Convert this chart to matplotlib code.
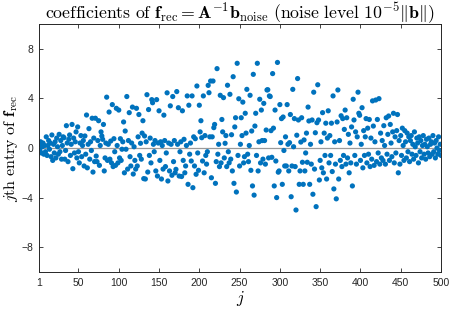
import matplotlib
matplotlib.use("Agg")
import matplotlib.pyplot as plt
import numpy as np

plt.rcParams['mathtext.fontset'] = 'cm'
plt.rcParams['font.family'] = ['Liberation Sans', 'DejaVu Sans']

coef = [
    0.3, -0.2, 0.5, -0.4, 0.1, 0.4, -0.5, 0.2, -0.3, 0.9,
    -0.6, 0.2, 0.6, -0.1, 0.4, -0.7, 1.05, -1.0, 0.3, -0.4,
    0.5, -0.8, 0.8, 0.1, -0.5, 1.1, -0.3, 0.6, -0.9, 0.2,
    0.9, 0.83, -0.9, -0.2, 1.8, 0.4, -1.1, 0.7, 1.05, -0.6,
    0.3, 1.9, -1.67, 0.8, -0.4, 0.5, 1.3, -0.8, 1.7, -0.3,
    -1.2, 0.4, 1.0, -0.7, 0.2, 0.6, -1.45, 0.97, -0.5, 2.66,
    -1.6, 0.3, 1.56, -0.9, 0.5, -0.2, 2.4, -1.94, 0.8, -1.1,
    2.4, -0.65, -1.1, 0.6, 2.2, -1.4, 0.2, 1.3, 0.97, 0.7,
    1.9, -1.85, -0.8, 0.4, 4.1, -1.0, 0.3, 2.9, -0.9, 0.56,
    -1.2, 3.5, -1.5, 0.75, -0.3, -1.4, 3.2, 0.2, -1.2, 3.06,
    -0.8, 0.75, -1.0, -0.1, 0.5, 2.1, -2.0, 1.37, -0.1, 4.15,
    -1.7, 0.6, 2.85, -0.7, -1.45, 0.4, 3.3, -2.1, 0.1, -1.0,
    -1.7, 3.2, -1.45, 0.9, 2.7, -0.6, 0.38, -0.9, 1.2, 2.2,
    -2.47, 0.97, -2.5, 0.5, 4.3, -1.94, 3.1, -0.6, 0.8, -1.2,
    3.9, 3.65, 0.3, -0.3, 0.6, -1.85, 3.9, -2.26, 0.4, 3.0,
    -1.0, 0.5, -2.5, 0.2, -1.7, 2.65, 0.6, -1.5, -0.4, 4.45,
    -2.66, 0.4, -1.85, 3.4, 0.3, -2.2, 4.15, -1.1, 0.6, -2.0,
    -1.72, 4.55, 0.3, 3.25, -2.26, -0.3, 0.5, -2.3, 3.0, -1.0,
    0.7, -2.0, -1.45, 0.2, 4.2, -2.93, 3.45, -0.5, 0.4, -1.05,
    4.2, -3.2, 0.9, -1.45, 0.75, -2.12, 5.0, -0.4, -1.8, 3.45,
    1.3, 2.2, 0.83, -1.05, 4.2, -2.0, 1.0, -0.6, -1.3, -0.3,
    5.05, 4.46, 0.9, 5.4, -2.4, 0.9, 5.4, 1.64, 1.9, -2.85,
    -1.1, 6.4, -0.5, 0.3, -1.5, 4.25, -1.2, 2.3, 1.3, 4.06,
    -0.8, 0.38, 1.0, -1.5, 5.06, -0.3, -1.2, 4.33, -0.9, 1.07,
    -1.85, 5.75, -2.85, 1.7, 2.44, -3.55, 6.83, -0.6, 3.97, -1.45,
    0.3, 2.44, 1.0, 3.7, -1.2, -0.7, 2.8, 1.2, 4.73, -0.5,
    -1.1, 0.2, 4.25, -1.8, 1.37, -3.06, 5.94, -3.8, 1.77, 2.8,
    -0.6, 6.83, -1.85, 0.5, 3.93, -1.2, 3.06, 0.6, -0.9, 3.6,
    0.6, -1.3, 1.45, 4.68, 4.7, -0.8, 4.2, 4.15, 1.4, -0.75,
    6.0, 1.6, -3.06, 3.06, -1.05, -4.0, 6.9, -1.95, -1.85, 3.5,
    0.43, 2.37, -2.93, 2.5, -0.2, -1.45, 0.9, -1.45, 3.5, 0.3,
    -1.85, 0.43, 2.7, -3.93, -1.45, 4.73, 0.1, 2.37, -1.5, -5.0,
    1.03, 5.6, 2.26, -2.93, -1.85, 0.48, 2.44, -1.15, -2.93, 0.65,
    -1.85, -0.4, 1.2, -1.15, 3.3, 2.18, -2.93, 0.3, -1.3, 2.26,
    -3.73, 4.5, -1.7, 1.23, -4.73, 2.04, 5.1, 2.26, -2.58, -1.0,
    0.5, -1.6, 2.85, -2.0, 1.2, -0.6, 2.0, -2.5, 0.8, 3.0,
    -1.2, 1.0, -0.6, 2.0, -1.9, 4.2, -3.3, 0.5, -1.3, -4.1,
    2.1, 4.68, -2.5, 0.6, -1.0, 2.6, -1.5, 2.37, -0.6, 1.5,
    3.06, -1.3, 2.44, -0.8, 1.1, -2.0, 0.4, -1.2, 1.7, -3.06,
    3.93, 2.26, -0.6, 1.3, -1.3, 0.9, 4.5, 2.8, 2.64, -1.0,
    0.3, 3.25, -1.6, 1.4, -0.6, 0.9, 2.37, -1.2, 1.6, -0.5,
    2.3, -1.5, 0.8, -0.9, 3.8, 1.77, -1.4, 0.5, 3.87, -1.1,
    2.3, -0.4, 3.98, -1.3, 1.2, -0.8, 0.6, -1.0, 1.8, 0.2,
    -1.3, 2.44, -0.5, 1.1, 2.58, -1.0, 1.9, 0.4, -0.7, 1.3,
    2.8, -1.2, 0.9, -0.4, 1.4, 2.7, -2.0, 0.6, -1.3, 1.0,
    -0.6, 1.6, 0.2, -1.0, 1.4, 0.5, -0.8, 1.2, -0.3, 0.9,
    -1.1, 0.6, 1.0, -0.5, 0.3, -0.9, 1.3, 0.1, -0.6, 0.8,
    0.4, -1.2, 0.9, -0.3, 0.6, -0.8, 0.2, 1.0, -0.5, 0.3,
    -0.9, 0.7, 0.1, -0.4, 0.8, -0.7, 0.3, 0.5, -0.5, 1.0,
    -0.3, 0.4, -0.8, 0.6, 0.0, -0.5, 0.9, -0.2, 0.3, -0.6,
]
j = np.arange(1, len(coef) + 1)
xticks = [1, 50, 100, 150, 200, 250, 300, 350, 400, 450, 500]
yticks = [-8, -4, 0, 4, 8]

fig = plt.figure(figsize=(4.5, 3.09), dpi=100)
ax = fig.add_axes([39/450, 1 - 272/309, 402/450, 248/309])
ax.axhline(0, color='#9a9a9a', lw=0.9, zorder=1)
ax.scatter(j, coef, s=14, color='#0072BD', edgecolors='none', zorder=2)
ax.set_xlim(1, 500)
ax.set_ylim(-10, 10)
ax.set_xticks(xticks)
ax.set_yticks(yticks)
ax.tick_params(direction='in', top=True, right=True, labelsize=7.5,
               colors='#262626', length=3, width=0.6, pad=4)
for s in ax.spines.values():
    s.set_color('#262626')
    s.set_linewidth(0.7)
ax.set_xlabel(r'$j$', fontsize=12, labelpad=1)
ax.set_ylabel(r'$j\mathrm{th\ entry\ of\ }\mathbf{f}_{\mathrm{rec}}$', fontsize=11.5, labelpad=1)
ax.set_title(r'$\mathrm{coefficients\ of\ }\mathbf{f}_{\mathrm{rec}}=\mathbf{A}^{-1}\mathbf{b}_{\mathrm{noise}}\ \mathrm{(noise\ level\ }10^{-5}\|\mathbf{b}\|\mathrm{)}$',
             fontsize=12.8, pad=4)
fig.savefig('out.png', dpi=100)
